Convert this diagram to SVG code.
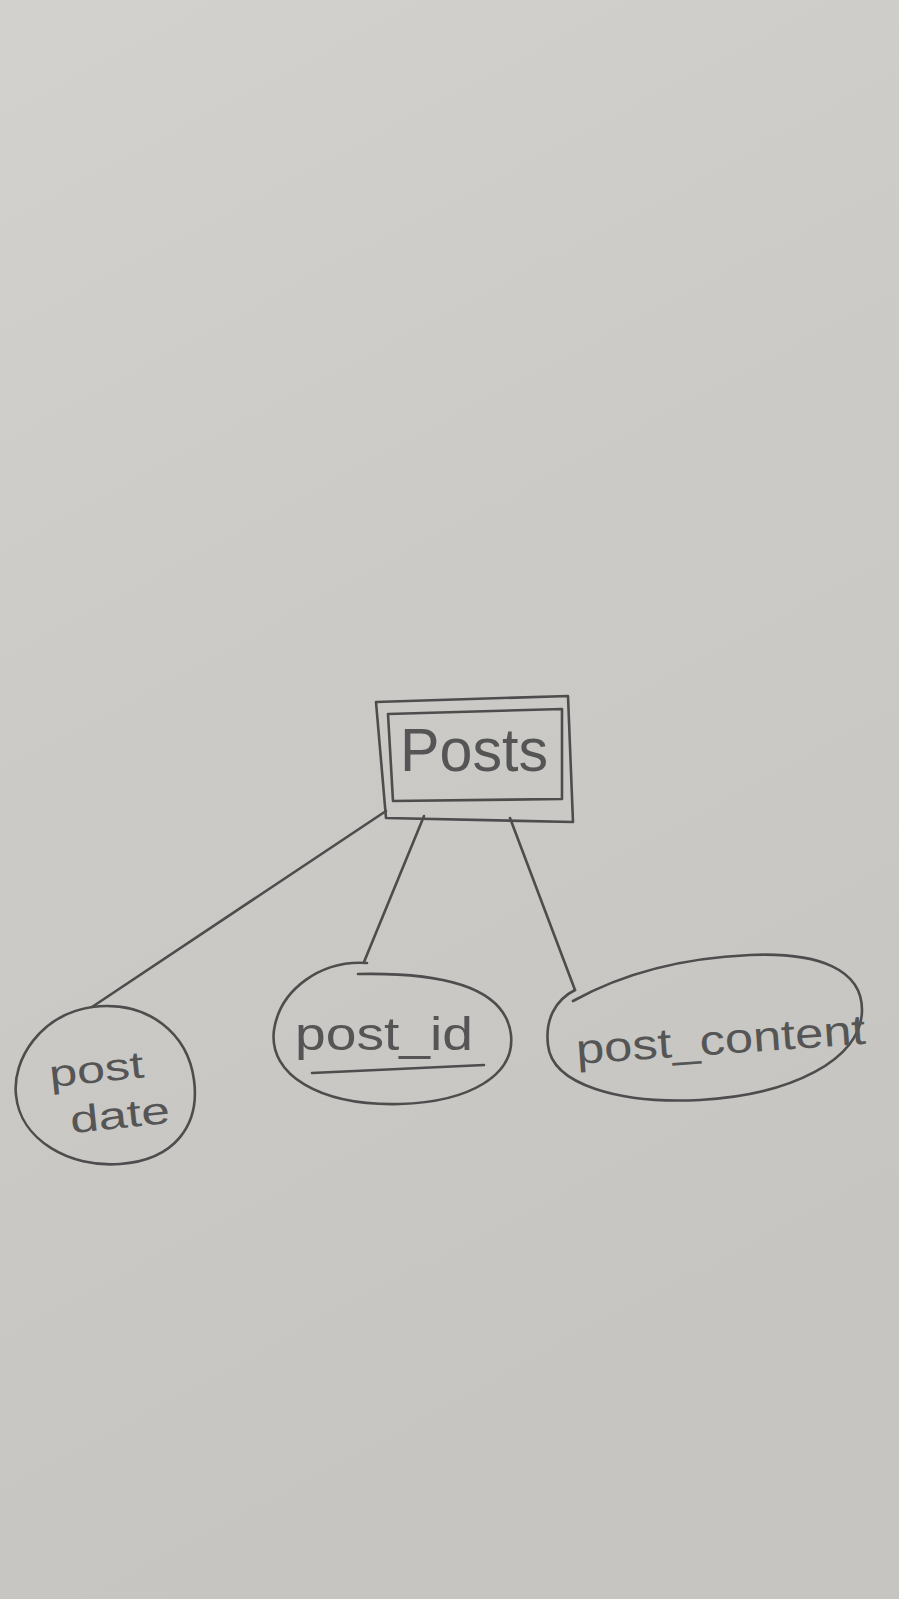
<svg xmlns="http://www.w3.org/2000/svg" width="899" height="1599" viewBox="0 0 899 1599">
<defs>
<linearGradient id="paper" x1="0" y1="0" x2="0.3" y2="1">
<stop offset="0" stop-color="#d2d1ce"/>
<stop offset="0.5" stop-color="#cbcac7"/>
<stop offset="1" stop-color="#c6c5c2"/>
</linearGradient>
<style>
.pen{fill:none;stroke:#4d4d4d;stroke-width:2.6;stroke-linecap:round;stroke-linejoin:round}
.lbl{font-family:"Liberation Sans","DejaVu Sans",sans-serif;fill:#555;}
</style>
</defs>
<rect width="899" height="1599" fill="url(#paper)"/>
<g id="connectors" class="pen">
<path d="M386,811 L92,1007"/>
<path d="M424,816 L364,962"/>
<path d="M510,818 L575,990"/>
</g>
<g id="posts">
<path class="pen" d="M376,702 L568,696 L573,822 L386,818 Z"/>
<path class="pen" d="M388,714 L562,709 L562,799 L393,801 Z"/>
<text class="lbl" x="400" y="771" font-size="62" textLength="148" lengthAdjust="spacingAndGlyphs">Posts</text>
</g>
<g id="post_date">
<path class="pen" d="M92,1007 C40,1015 12,1060 16,1095 C20,1140 70,1168 120,1164 C175,1160 200,1125 194,1080 C188,1035 150,1000 92,1007 Z"/>
<text class="lbl" font-size="38" transform="rotate(-6 100 1080)"><tspan x="50" y="1082" textLength="95" lengthAdjust="spacingAndGlyphs">post</tspan><tspan x="66" y="1130" textLength="100" lengthAdjust="spacingAndGlyphs">date</tspan></text>
</g>
<g id="post_id">
<path class="pen" d="M367,963 C320,960 280,990 274,1030 C268,1075 320,1106 400,1104 C470,1102 515,1075 511,1035 C506,990 450,972 358,974"/>
<text class="lbl" x="295" y="1050" font-size="46" textLength="178" lengthAdjust="spacingAndGlyphs">post_id</text>
<path class="pen" d="M312,1073 L484,1065"/>
</g>
<g id="post_content">
<path class="pen" d="M575,990 C555,1000 545,1020 548,1045 C552,1085 620,1104 700,1100 C790,1095 862,1060 862,1010 C862,970 820,952 750,955 C680,958 620,975 573,1001"/>
<text class="lbl" font-size="42" transform="rotate(-4 720 1045)" x="576" y="1054" textLength="290" lengthAdjust="spacingAndGlyphs">post_content</text>
</g>
</svg>
